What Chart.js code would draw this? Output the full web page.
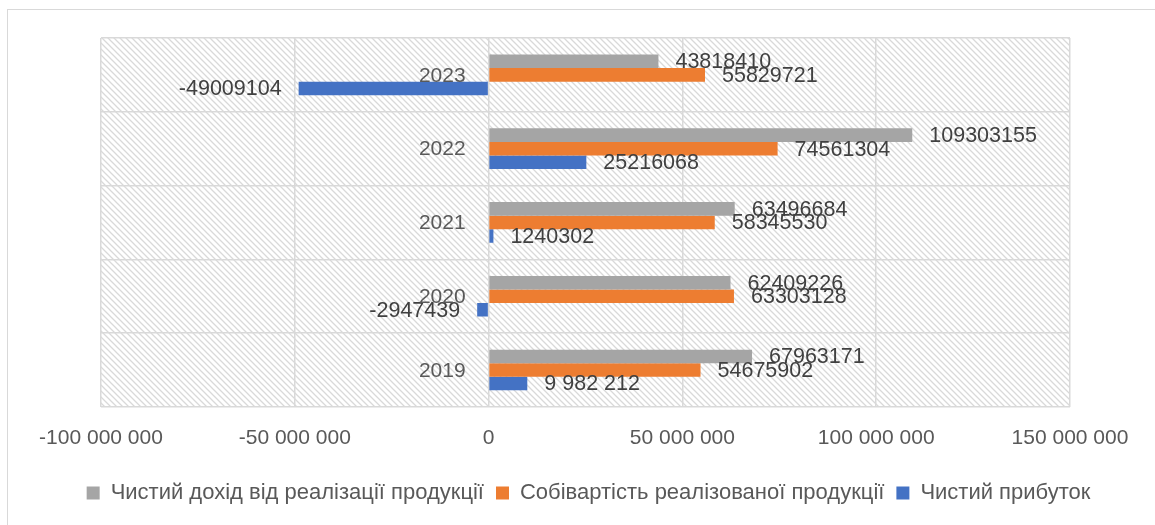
<!DOCTYPE html>
<html>
<head>
<meta charset="utf-8">
<script src="https://cdn.jsdelivr.net/npm/chart.js@4.4.0/dist/chart.umd.min.js"></script>
<style>
  html, body { margin: 0; padding: 0; background: #fff; overflow: hidden; width: 1155px; height: 525px; }
  #frame { position: absolute; left: 7px; top: 9px; width: 1200px; height: 600px; border: 1.5px solid #d9d9d9; box-sizing: border-box; }
  #c { position: absolute; left: 8px; top: 10px; }
</style>
</head>
<body>
<div id="frame"></div>
<canvas id="c" width="1161" height="515"></canvas>
<script>
// Years, top to bottom
const years = ['2023', '2022', '2021', '2020', '2019'];
// Чистий дохід від реалізації продукції
const netRevenue = [43818410, 109303155, 63496684, 62409226, 67963171];
// Собівартість реалізованої продукції
const costOfSales = [55829721, 74561304, 58345530, 63303128, 54675902];
// Чистий прибуток
const netProfit = [-49009104, 25216068, 1240302, -2947439, 9982212];
const seriesNames = ['Чистий дохід від реалізації продукції', 'Собівартість реалізованої продукції', 'Чистий прибуток'];
const xMin = -100000000, xMax = 150000000, xStep = 50000000;
// value labels written with digit groups: [dataset, point]
const groupedLabels = [[2, 4]];

const FONT = "'Liberation Sans', Arial, sans-serif";
const GRID = '#d9d9d9';
const TEXT = '#595959';

function groupDigits(v) {
  const s = String(Math.abs(v)).replace(/\B(?=(\d{3})+(?!\d))/g, ' ');
  return (v < 0 ? '-' : '') + s;
}

function hatchPattern(ctx) {
  const t = document.createElement('canvas');
  t.width = 6; t.height = 6;
  const g = t.getContext('2d');
  g.fillStyle = '#ffffff';
  g.fillRect(0, 0, 6, 6);
  g.strokeStyle = '#d9d9d9';
  g.lineWidth = 1.3;
  g.beginPath();
  g.moveTo(-1, -1); g.lineTo(7, 7);
  g.moveTo(-4, 2); g.lineTo(2, 8);
  g.moveTo(2, -4); g.lineTo(8, 2);
  g.stroke();
  return ctx.createPattern(t, 'repeat');
}

// hatched fill behind the plot area
const plotBackground = {
  id: 'plotBackground',
  beforeDraw(chart) {
    const { ctx, chartArea: a } = chart;
    ctx.save();
    ctx.fillStyle = hatchPattern(ctx);
    ctx.fillRect(a.left, a.top, a.right - a.left, a.bottom - a.top);
    ctx.restore();
  }
};

// year labels set just left of the zero line
const yearLabels = {
  id: 'yearLabels',
  afterDatasetsDraw(chart) {
    const { ctx, scales: { x, y } } = chart;
    const x0 = x.getPixelForValue(0);
    ctx.save();
    ctx.font = '21px ' + FONT;
    ctx.fillStyle = TEXT;
    ctx.textAlign = 'right';
    ctx.textBaseline = 'middle';
    chart.data.labels.forEach((lab, i) => {
      ctx.fillText(lab, x0 - 23, y.getPixelForTick(i) + 1);
    });
    ctx.restore();
  }
};

// value labels at the outer end of every bar
const valueLabels = {
  id: 'valueLabels',
  afterDatasetsDraw(chart) {
    const { ctx } = chart;
    ctx.save();
    ctx.font = '21.5px ' + FONT;
    ctx.fillStyle = '#404040';
    ctx.textBaseline = 'middle';
    chart.data.datasets.forEach((ds, di) => {
      chart.getDatasetMeta(di).data.forEach((bar, i) => {
        const v = ds.data[i];
        const grouped = groupedLabels.some(p => p[0] === di && p[1] === i);
        const text = grouped ? groupDigits(v) : String(v);
        const neg = v < 0;
        ctx.textAlign = neg ? 'right' : 'left';
        ctx.fillText(text, bar.x + (neg ? -17 : 17), bar.y + 1);
      });
    });
    ctx.restore();
  }
};

new Chart(document.getElementById('c'), {
  type: 'bar',
  data: {
    labels: years,
    datasets: [
      { label: seriesNames[0], data: netRevenue, backgroundColor: '#a5a5a5' },
      { label: seriesNames[1], data: costOfSales, backgroundColor: '#ed7d31' },
      { label: seriesNames[2], data: netProfit, backgroundColor: '#4472c4' }
    ]
  },
  options: {
    indexAxis: 'y',
    responsive: false,
    animation: false,
    devicePixelRatio: 1,
    datasets: { bar: { categoryPercentage: 0.55, barPercentage: 1.0, borderWidth: 0 } },
    layout: { padding: { left: 0, right: 0, top: 28, bottom: 11 } },
    scales: {
      x: {
        min: xMin, max: xMax,
        ticks: {
          stepSize: xStep,
          padding: 19,
          color: TEXT,
          font: { family: FONT, size: 21 },
          callback: v => groupDigits(v)
        },
        grid: { color: GRID, lineWidth: 1.5, drawTicks: false },
        border: { display: false }
      },
      y: {
        type: 'category',
        position: 'left',
        offset: true,
        ticks: { display: false },
        grid: { color: GRID, lineWidth: 1.5, drawTicks: false, offset: true },
        border: { display: false },
        afterFit: s => { s.width = 93; }
      },
      // empty margin to the right of the plot area
      yRight: {
        type: 'category',
        position: 'right',
        ticks: { display: false },
        grid: { display: false },
        border: { display: false },
        afterFit: s => { s.width = 99; }
      }
    },
    plugins: {
      legend: {
        position: 'bottom',
        labels: {
          color: TEXT,
          font: { family: FONT, size: 22 },
          boxWidth: 13,
          boxHeight: 13,
          padding: 12
        }
      },
      tooltip: { enabled: false }
    }
  },
  plugins: [plotBackground, valueLabels, yearLabels]
});
</script>
</body>
</html>
